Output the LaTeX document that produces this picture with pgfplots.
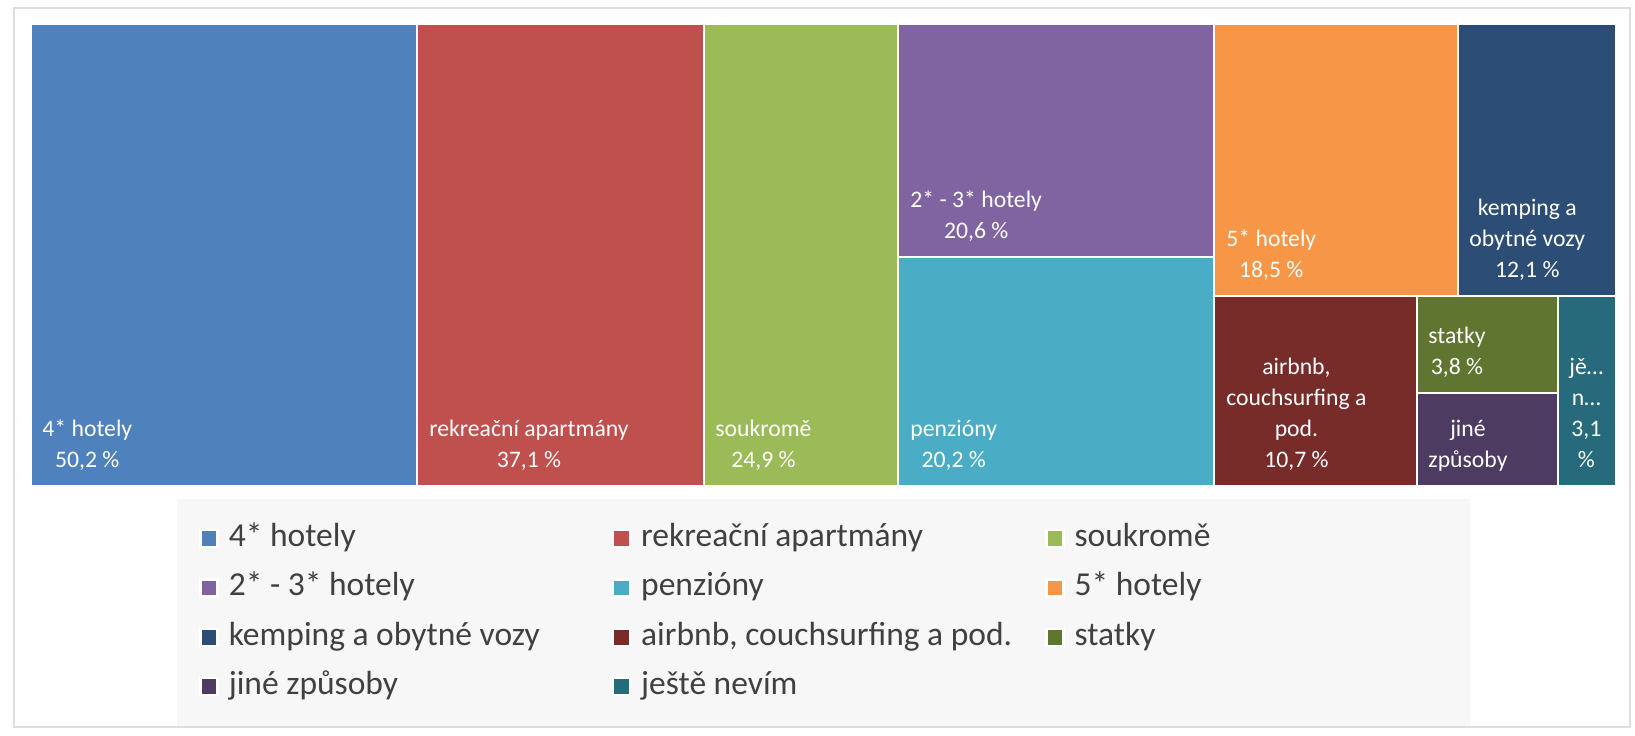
\documentclass[border=0pt]{standalone}
\usepackage{fontspec}
\setmainfont{Carlito}
\usepackage{pgfplots}
\pgfplotsset{compat=1.18}

% Office 2007 theme colours and their darker shades
\definecolor{c4h}{RGB}{79,129,189}
\definecolor{crek}{RGB}{192,80,77}
\definecolor{csou}{RGB}{155,187,89}
\definecolor{c23h}{RGB}{128,100,162}
\definecolor{cpen}{RGB}{75,172,198}
\definecolor{c5h}{RGB}{247,150,70}
\definecolor{ckem}{RGB}{44,77,117}
\definecolor{cair}{RGB}{119,44,42}
\definecolor{csta}{RGB}{95,117,48}
\definecolor{cjin}{RGB}{77,59,98}
\definecolor{cjes}{RGB}{39,106,124}
\definecolor{legendbg}{RGB}{247,247,247}
\definecolor{legendtext}{RGB}{64,64,64}
\definecolor{framegray}{RGB}{222,222,222}

% legend column widths
\newcommand\La[1]{\makebox[191.5pt][l]{#1}}
\newcommand\Lb[1]{\makebox[202pt][l]{#1}}
\newcommand\Lc[1]{\makebox[186.5pt][l]{#1}}

\begin{document}
\begin{tikzpicture}
  \pgfplotsset{tile/.style={fill=#1, draw=white, line width=1.2pt}}
  \tikzset{lbl/.style={anchor=south west, inner sep=0pt, text depth=0pt, align=center,
      text=white, font=\fontsize{11.85}{15.5}\selectfont}}
  % axis units are pixels of the 1635x735 picture, y counted from the bottom
  \begin{axis}[
      name=ax, at={(0,0)}, anchor=south west,
      width=817.5pt, height=367.5pt, scale only axis,
      xmin=0, xmax=1635, ymin=0, ymax=735,
      hide axis, clip=false,
      legend image code/.code={\fill[#1] (0pt,-4.25pt) rectangle (8.5pt,4.25pt);},
      legend columns=3,
      legend cell align=left,
      legend style={
        at={(axis cs:177,236)}, anchor=north west,
        fill=legendbg, draw=none,
        inner xsep=11pt, inner ysep=12pt,
        font=\fontsize{16.75}{20}\selectfont, text=legendtext,
        nodes={inner sep=0pt, text height=11.5pt, text depth=3.5pt},
        /tikz/every odd column/.append style={column sep=5pt},
        row sep=9.7pt,
      },
    ]
    \draw[framegray, line width=1pt] (14,8) rectangle (1630,727);

    % tiles: area ~ share of respondents
    \addplot[tile=c4h]  coordinates {(31,249) (417,249) (417,711) (31,711)} -- cycle;     % 50,2
    \addplot[tile=crek] coordinates {(417,249) (704,249) (704,711) (417,711)} -- cycle;   % 37,1
    \addplot[tile=csou] coordinates {(704,249) (898,249) (898,711) (704,711)} -- cycle;   % 24,9
    \addplot[tile=c23h] coordinates {(898,478) (1214,478) (1214,711) (898,711)} -- cycle; % 20,6
    \addplot[tile=cpen] coordinates {(898,249) (1214,249) (1214,478) (898,478)} -- cycle; % 20,2
    \addplot[tile=c5h]  coordinates {(1214,439) (1458,439) (1458,711) (1214,711)} -- cycle; % 18,5
    \addplot[tile=ckem] coordinates {(1458,439) (1616,439) (1616,711) (1458,711)} -- cycle; % 12,1
    \addplot[tile=cair] coordinates {(1214,249) (1417,249) (1417,439) (1214,439)} -- cycle; % 10,7
    \addplot[tile=csta] coordinates {(1417,342) (1558,342) (1558,439) (1417,439)} -- cycle; % 3,8
    \addplot[tile=cjin] coordinates {(1417,249) (1558,249) (1558,342) (1417,342)} -- cycle; % ~3,6
    \addplot[tile=cjes] coordinates {(1558,249) (1616,249) (1616,439) (1558,439)} -- cycle; % 3,1

    \node[lbl] at (axis cs:42,267)   {4* hotely\\50,2 \%};
    \node[lbl] at (axis cs:429,267)  {rekreační apartmány\\37,1 \%};
    \node[lbl] at (axis cs:715,267)  {soukromě\\24,9 \%};
    \node[lbl] at (axis cs:910,496)  {2* - 3* hotely\\20,6 \%};
    \node[lbl] at (axis cs:910,267)  {penzióny\\20,2 \%};
    \node[lbl] at (axis cs:1226,457) {5* hotely\\18,5 \%};
    \node[lbl] at (axis cs:1469,457) {kemping a\\obytné vozy\\12,1 \%};
    \node[lbl] at (axis cs:1226,267) {airbnb,\\couchsurfing a\\pod.\\10,7 \%};
    \node[lbl] at (axis cs:1428,360) {statky\\3,8 \%};
    \node[lbl] at (axis cs:1428,267) {jiné\\způsoby};
    \node[lbl] at (axis cs:1569,267) {jě…\\n…\\3,1\\\%};

    \legend{\La{4* hotely}, \Lb{rekreační apartmány}, \Lc{soukromě},
      \La{2* - 3* hotely}, \Lb{penzióny}, \Lc{5* hotely},
      \La{kemping a obytné vozy}, \Lb{airbnb, couchsurfing a pod.}, \Lc{statky},
      \La{jiné způsoby}, \Lb{ještě nevím}}
  \end{axis}
  \pgfresetboundingbox
  \path (ax.south west) rectangle (ax.north east);
\end{tikzpicture}
\end{document}
